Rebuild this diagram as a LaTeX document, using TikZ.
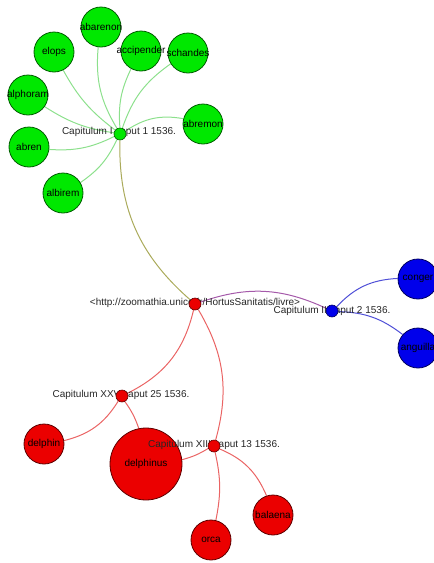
\documentclass[tikz,border=0pt]{standalone}
\usepackage{fontspec}
\setmainfont{Liberation Sans}
\pgfdeclarelayer{edges}
\pgfdeclarelayer{labels}
\pgfdeclarelayer{hubs}
\pgfsetlayers{edges,main,labels,hubs}
\newcommand\zb[1]{\makebox[0pt]{#1}}
\begin{document}
\begin{tikzpicture}[x=1pt,y=-1pt,
  font=\fontsize{10}{12}\selectfont,
  leaf/.style={circle,draw=#1!40!black,line width=0.8pt,fill=#1,minimum size=40pt,inner sep=0pt},
  hub/.style={circle,draw=#1!40!black,line width=0.6pt,fill=#1,minimum size=12pt,inner sep=0pt},
  lab/.style={inner sep=0pt,text=black!85},
  gedge/.style={draw=edgeG,line width=1pt},
  redge/.style={draw=edgeR,line width=1pt},
  bedge/.style={draw=edgeB,line width=1pt}]
\definecolor{nG}{RGB}{0,232,0}
\definecolor{nR}{RGB}{235,0,0}
\definecolor{nB}{RGB}{0,0,235}
\definecolor{edgeG}{RGB}{140,224,140}
\definecolor{edgeR}{RGB}{234,100,100}
\definecolor{edgeB}{RGB}{80,80,215}
\definecolor{edgeP}{RGB}{165,90,170}
\definecolor{edgeO}{RGB}{170,170,90}
\useasboundingbox (0,0) rectangle (434,563);
\clip (0,0) rectangle (434,563);
% leaves
\node[leaf=nG] (abarenon) at (101,27) {\zb{abarenon}};
\node[leaf=nG] (elops) at (54,52) {\zb{elops}};
\node[leaf=nG] (accipender) at (141,51) {\zb{accipender}};
\node[leaf=nG] (schandes) at (188,53) {\zb{schandes}};
\node[leaf=nG] (alphoram) at (28,95) {\zb{alphoram}};
\node[leaf=nG] (abremon) at (203,124) {\zb{abremon}};
\node[leaf=nG] (abren) at (29,147) {\zb{abren}};
\node[leaf=nG] (albirem) at (63,193) {\zb{albirem}};
\node[leaf=nB] (conger) at (418,279) {\zb{conger}};
\node[leaf=nB] (anguilla) at (418,348) {\zb{anguilla}};
\node[leaf=nR] (delphin) at (44,444) {\zb{delphin}};
\node[leaf=nR,minimum size=72pt] (delphinus) at (146,464) {\zb{delphinus}};
\node[leaf=nR] (orca) at (211,540) {\zb{orca}};
\node[leaf=nR] (balaena) at (273,515) {\zb{balaena}};
% hubs
\begin{pgfonlayer}{hubs}
\node[hub=nG] (g) at (120,134) {};
\node[hub=nR] (r) at (195,304) {};
\node[hub=nB] (b) at (332,311) {};
\node[hub=nR] (c25) at (122,396) {};
\node[hub=nR] (c13) at (214,446) {};
\end{pgfonlayer}
% hub labels
\begin{pgfonlayer}{labels}
\node[lab] (lg) at (119,132) {Capitulum I caput 1 1536.};
\node[lab] (lr) at (195,303) {<http://zoomathia.unice.fr/HortusSanitatis/livre>};
\node[lab] (lb) at (332,311) {Capitulum II caput 2 1536.};
\node[lab] (l25) at (121,395) {Capitulum XXV caput 25 1536.};
\node[lab] (l13) at (214,445) {Capitulum XIII caput 13 1536.};
\end{pgfonlayer}
% edges
\begin{pgfonlayer}{edges}
\draw[gedge] (g) to[bend left=18] (abarenon);
\draw[gedge] (g) to[bend left=12] (elops);
\draw[gedge] (g) to[bend left=15] (accipender);
\draw[gedge] (g) to[bend left=18] (schandes);
\draw[gedge] (g) to[bend left=12] (alphoram);
\draw[gedge] (g) to[bend left=22] (abremon);
\draw[gedge] (g) to[bend left=15] (abren);
\draw[gedge] (g) to[bend left=15] (albirem);
\draw[draw=edgeO,line width=1pt] (r) to[bend left=25] (g);
\draw[draw=edgeP,line width=1pt] (r) to[bend left=22] (b);
\draw[bedge] (b) to[bend left=22] (conger);
\draw[bedge] (b) to[bend left=18] (anguilla);
\draw[redge] (r) to[bend left=25] (c25);
\draw[redge] (r) to[bend left=23] (c13);
\draw[redge] (c25) to[bend left=22] (delphin);
\draw[redge] (c25) to[bend left=8] (delphinus);
\draw[redge] (c13) to[bend left=8] (delphinus);
\draw[redge] (c13) to[bend left=12] (orca);
\draw[redge] (c13) to[bend left=22] (balaena);
\end{pgfonlayer}
\end{tikzpicture}
\end{document}
